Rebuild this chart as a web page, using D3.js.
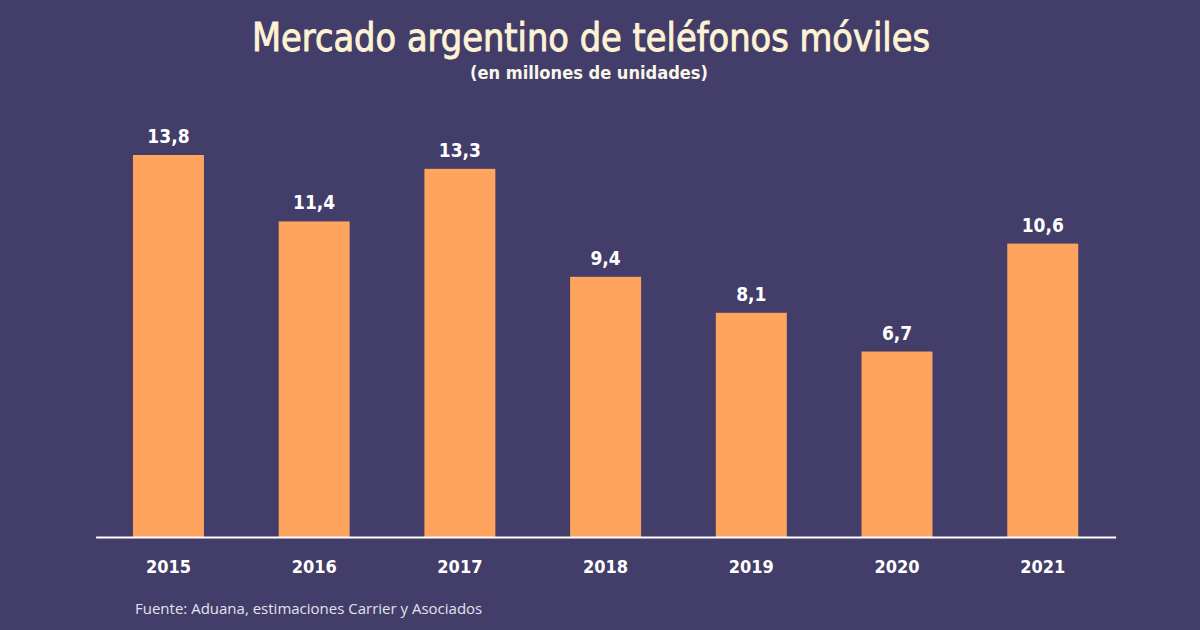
<!DOCTYPE html>
<html><head><meta charset="utf-8">
<script src="https://cdn.jsdelivr.net/npm/d3@7"></script>
<style>body{margin:0;background:#423d69;}svg{display:block}</style>
</head><body>
<svg id="c" width="1200" height="630"></svg>
<script>
const years = ["2015","2016","2017","2018","2019","2020","2021"];
const values = [13.8, 11.4, 13.3, 9.4, 8.1, 6.7, 10.6];
const valueLabels = ["13,8","11,4","13,3","9,4","8,1","6,7","10,6"];

const svg = d3.select("#c");
svg.append("rect").attr("width",1200).attr("height",630).attr("fill","#423d69");

const x = d3.scaleBand().domain(years).range([95.6,1115.6]).paddingInner(0.513).paddingOuter(0.2565);
const y = d3.scaleLinear().domain([0,13.8]).range([537,155]);

const cond = "'DejaVu Sans Condensed','DejaVu Sans',sans-serif";

svg.append("text").attr("x",591).attr("y",51).attr("text-anchor","middle")
  .attr("font-family",cond).attr("font-size",39).attr("font-weight","normal")
  .attr("fill","#fdf2d4").attr("stroke","#fdf2d4").attr("stroke-width",0.9)
  .attr("textLength",678).attr("lengthAdjust","spacingAndGlyphs")
  .text("Mercado argentino de teléfonos móviles");
svg.append("text").attr("x",589).attr("y",79).attr("text-anchor","middle")
  .attr("font-family",cond).attr("font-size",18).attr("font-weight","bold")
  .attr("fill","#fbf6ea").attr("textLength",238).attr("lengthAdjust","spacingAndGlyphs")
  .text("(en millones de unidades)");

svg.selectAll("rect.bar").data(values).join("rect").attr("class","bar")
  .attr("x",(d,i)=>x(years[i])).attr("width",x.bandwidth())
  .attr("y",d=>y(d)).attr("height",d=>y(0)-y(d)).attr("fill","#ffa45e");

svg.selectAll("text.val").data(values).join("text").attr("class","val")
  .attr("x",(d,i)=>x(years[i])+x.bandwidth()/2).attr("y",d=>y(d)-12)
  .attr("text-anchor","middle").attr("font-family",cond).attr("font-size",19).attr("font-weight","bold")
  .attr("fill","#ffffff").text((d,i)=>valueLabels[i]);

const ax = d3.axisBottom(x).tickSize(0).tickPadding(23);
const g = svg.append("g").attr("transform","translate(0,537)").call(ax);
g.select(".domain").attr("stroke","#ffffff").attr("stroke-width",2);
g.selectAll("text").attr("font-family",cond).attr("font-size",18).attr("font-weight","bold").attr("fill","#ffffff");

svg.append("text").attr("x",135).attr("y",614)
  .attr("font-family","'Open Sans',sans-serif").attr("font-size",15)
  .attr("fill","#e4e2ee").text("Fuente: Aduana, estimaciones Carrier y Asociados");
</script>
</body></html>
